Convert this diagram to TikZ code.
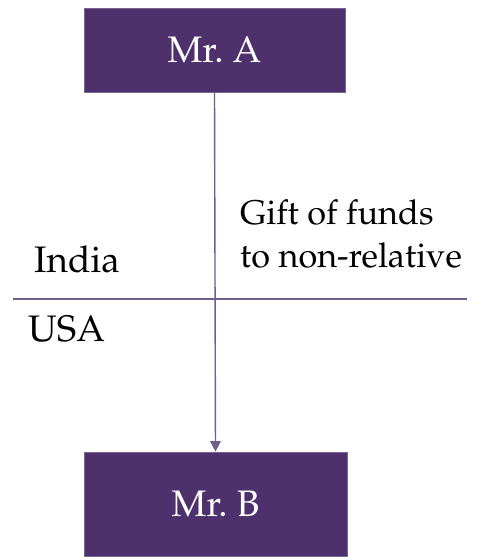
\documentclass[tikz,border=0pt]{standalone}
\usepackage[T1]{fontenc}
\usepackage{mathpazo}
\usepackage{tikz}
\usetikzlibrary{arrows.meta, positioning}
\definecolor{giftpurple}{RGB}{78,48,108}
\definecolor{giftline}{RGB}{112,94,140}

\begin{document}
\begin{tikzpicture}[
    x=0.02cm, y=-0.02cm,
    person/.style={rectangle, fill=giftpurple, draw=giftpurple!75!white, text=white, font=\fontsize{21}{24}\selectfont},
    label/.style={font=\fontsize{19.5}{24.4}\selectfont, align=left},
    arrow/.style={-{Triangle[length=6pt, width=6pt]}, giftline, thick}
]
    % Frame
    \useasboundingbox (0, 0) rectangle (495, 560);

    % Persons
    \node[person, minimum width=261*0.02cm, minimum height=84*0.02cm] (A) at (214.5, 50) {Mr.~A};
    \node[person, minimum width=263*0.02cm, minimum height=104*0.02cm] (B) at (215.5, 504) {Mr.~B};

    % Border
    \coordinate (bl) at (13, 299);
    \coordinate (br) at (467, 299);
    \draw[giftline, thick] (bl) -- (br);

    % Countries
    \node[label, anchor=base west, font=\fontsize{21}{24}\selectfont] (india) at (28, 272) {India};
    \node[label, anchor=base west, font=\fontsize{21}{24}\selectfont] (usa) at (22, 341) {USA};

    % Transfer
    \draw[arrow] (A.south) -- (B.north);
    \node[label, anchor=base west] (gift) at (234, 267) {Gift of funds\\to non-relative};
\end{tikzpicture}
\end{document}
